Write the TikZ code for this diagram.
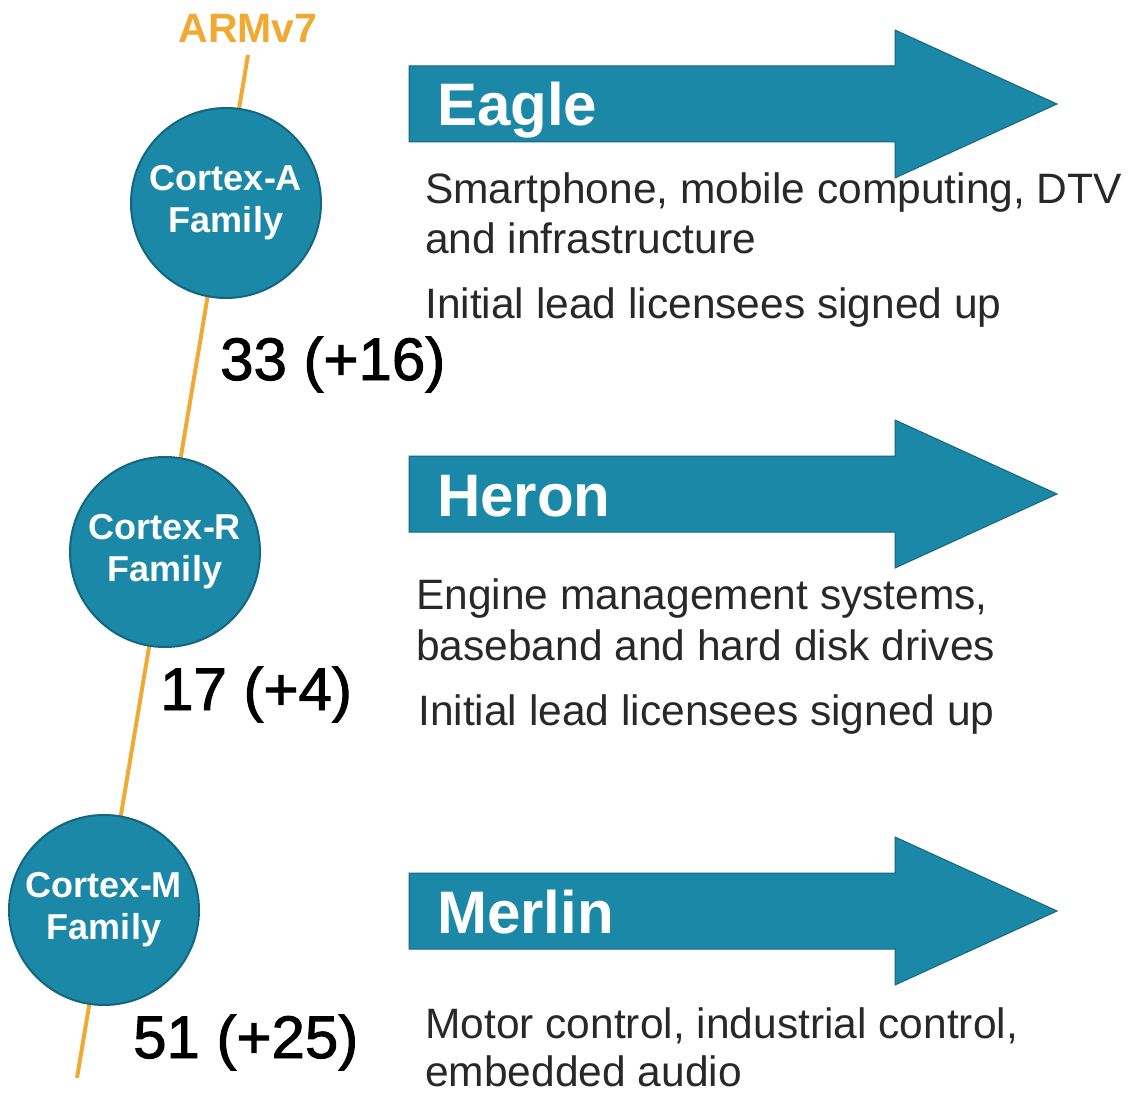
\documentclass[tikz,border=0pt]{standalone}
\usepackage{fontspec}
\setmainfont{Liberation Sans}
\newfontfamily\numfont{Liberation Sans}[FakeBold=1.6]
\definecolor{tealfill}{RGB}{27,136,167}
\definecolor{tealdark}{RGB}{20,102,128}
\definecolor{armorange}{RGB}{240,170,52}
\definecolor{desctext}{RGB}{40,40,40}
\begin{document}
\begin{tikzpicture}[x=1pt,y=-1pt,
  fam/.style={circle, fill=tealfill, draw=tealdark, line width=2pt, minimum size=190pt,
    inner sep=0pt, text=white, align=center, font=\fontsize{36}{42}\selectfont\bfseries},
  desc/.style={anchor=base west, inner sep=0pt, text=desctext, font=\fontsize{42.5}{50}\selectfont},
  num/.style={anchor=base west, inner sep=0pt, text=black, font=\numfont\fontsize{60}{60}\selectfont},
  arrowlabel/.style={anchor=base west, inner sep=0pt, text=white, font=\fontsize{60}{60}\selectfont\bfseries},
  bigarrow/.style={fill=tealfill, draw=tealdark, line width=1pt},
  armline/.style={draw=armorange, line width=4pt}]
\useasboundingbox (0,0) rectangle (1133,1094);

% timeline
\node[anchor=base, inner sep=0pt, text=armorange, font=\fontsize{41}{41}\selectfont\bfseries] (arm) at (248,43) {ARMv7};
\coordinate (ltop) at (248,55);
\coordinate (lbot) at (77,1078);
\draw[armline] (ltop) -- (lbot);

% family circles
\node[fam] (ca) at (226,203) {Cortex-A\\Family};
\node[fam] (cr) at (165,552) {Cortex-R\\Family};
\node[fam] (cm) at (104,910) {Cortex-M\\Family};

% counts
\node[num] (na) at (220,380) {33 (+16)};
\node[num] (nr) at (160,710) {17 (+4)};
\node[num] (nm) at (133,1058) {51 (+25)};

% arrows
\path[bigarrow, shift={(0,104)}] (409,-38) -- (895,-38) -- (895,-74) -- (1057,0) -- (895,74) -- (895,38) -- (409,38) -- cycle;
\path[bigarrow, shift={(0,494)}] (409,-38) -- (895,-38) -- (895,-74) -- (1057,0) -- (895,74) -- (895,38) -- (409,38) -- cycle;
\path[bigarrow, shift={(0,911)}] (409,-38) -- (895,-38) -- (895,-74) -- (1057,0) -- (895,74) -- (895,38) -- (409,38) -- cycle;

\node[arrowlabel] (eagle) at (437,126) {Eagle};
\node[arrowlabel] (heron) at (437,516) {Heron};
\node[arrowlabel] (merlin) at (437,933) {Merlin};

% descriptions
\node[desc] (e1) at (425,204) {Smartphone, mobile computing, DTV};
\node[desc] (e2) at (425,254) {and infrastructure};
\node[desc] (e3) at (425,319) {Initial lead licensees signed up};

\node[desc] (h1) at (416,609) {Engine management systems,};
\node[desc] (h2) at (416,660) {baseband and hard disk drives};
\node[desc] (h3) at (418,725) {Initial lead licensees signed up};

\node[desc] (m1) at (425,1038) {Motor control, industrial control,};
\node[desc] (m2) at (425,1086) {embedded audio};
\end{tikzpicture}
\end{document}
